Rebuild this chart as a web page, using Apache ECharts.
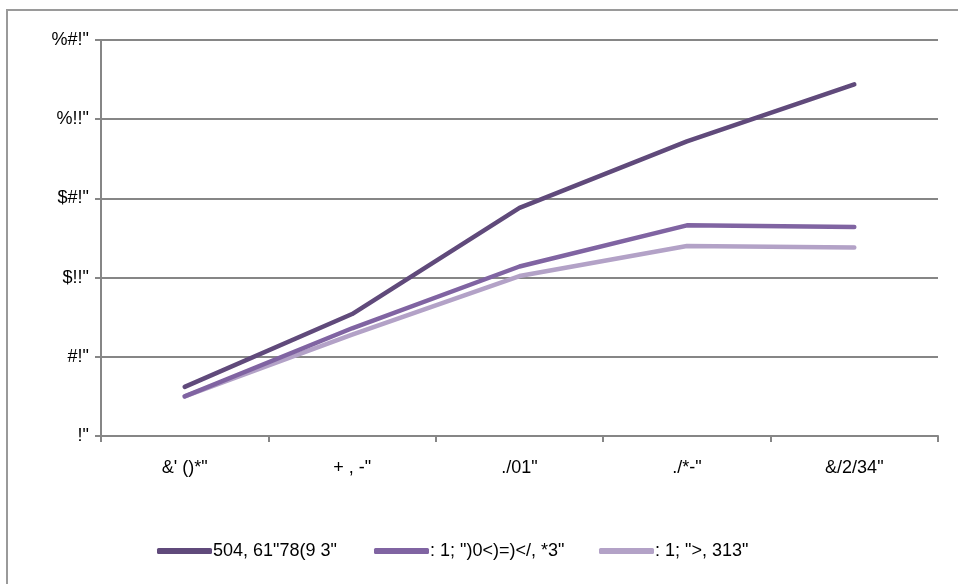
<!DOCTYPE html>
<html>
<head>
<meta charset="utf-8">
<style>
  html, body { margin: 0; padding: 0; background: #ffffff; }
  #chart { width: 958px; height: 584px; }
</style>
<script src="https://cdn.jsdelivr.net/npm/echarts@6/dist/echarts.min.js"></script>
</head>
<body>
<div id="chart"></div>
<script>
// Category labels along the x axis
const categories = ["&' ()*\"", "+ , -\"", "./01\"", "./*-\"", "&/2/34\""];

// Series names shown in the legend
const seriesNames = ["504, 61\"78(9 3\"", ": 1; \")0<)=)</, *3\"", ": 1; \">, 313\""];

// Values of each series
const seriesA = [31, 77, 144, 186, 222];
const seriesB = [25, 68, 107, 133, 132];
const seriesC = [25, 64, 101, 120, 119];

// Y axis tick labels (0, 50, 100, 150, 200, 250)
const yTickLabels = ["!\"", "#!\"", "$!!\"", "$#!\"", "%!!\"", "%#!\""];

const colors = ["#604A7B", "#8064A2", "#B3A2C7"];
const fontFamily = "'Liberation Sans', 'DejaVu Sans', sans-serif";

const chart = echarts.init(document.getElementById('chart'), null, { renderer: 'canvas' });

const values = [seriesA, seriesB, seriesC];

// One legend block per series so each entry sits at its own spot
const legendLefts = [157, 374, 599];
const legends = seriesNames.map(function (name, i) {
  return {
    left: legendLefts[i],
    top: 542,
    padding: 0,
    itemWidth: 55,
    itemHeight: 6,
    icon: 'roundRect',
    textStyle: { fontFamily: fontFamily, fontSize: 18, color: '#000', padding: [0, 0, 0, -4] },
    data: [name]
  };
});

chart.setOption({
  animation: false,
  backgroundColor: '#ffffff',
  color: colors,
  graphic: [{
    type: 'rect',
    shape: { x: 7, y: 10, width: 960, height: 600 },
    style: { fill: 'none', stroke: '#9a9a9a', lineWidth: 2 },
    silent: true
  }],
  grid: { left: 101, right: 20, top: 40, bottom: 148, containLabel: false },
  legend: legends,
  xAxis: {
    type: 'category',
    data: categories,
    boundaryGap: true,
    axisLine: { lineStyle: { color: '#868686', width: 2 } },
    axisTick: { show: true, length: 6, inside: false, lineStyle: { color: '#868686', width: 2 } },
    axisLabel: { fontFamily: fontFamily, fontSize: 18, color: '#000', margin: 23 },
    splitLine: { show: false }
  },
  yAxis: {
    type: 'value',
    min: 0,
    max: 250,
    interval: 50,
    axisLine: { show: true, lineStyle: { color: '#868686', width: 2 } },
    axisTick: { show: true, length: 6, lineStyle: { color: '#868686', width: 2 } },
    axisLabel: {
      fontFamily: fontFamily, fontSize: 18, color: '#000', margin: 12,
      formatter: function (v) { return yTickLabels[Math.round(v / 50)]; }
    },
    splitLine: { show: true, lineStyle: { color: '#868686', width: 2 } }
  },
  series: seriesNames.map(function (name, i) {
    return {
      name: name,
      type: 'line',
      data: values[i],
      showSymbol: false,
      symbol: 'none',
      z: 10 - i,
      lineStyle: { width: 4.5, color: colors[i], cap: 'round', join: 'round' }
    };
  })
});
</script>
</body>
</html>
